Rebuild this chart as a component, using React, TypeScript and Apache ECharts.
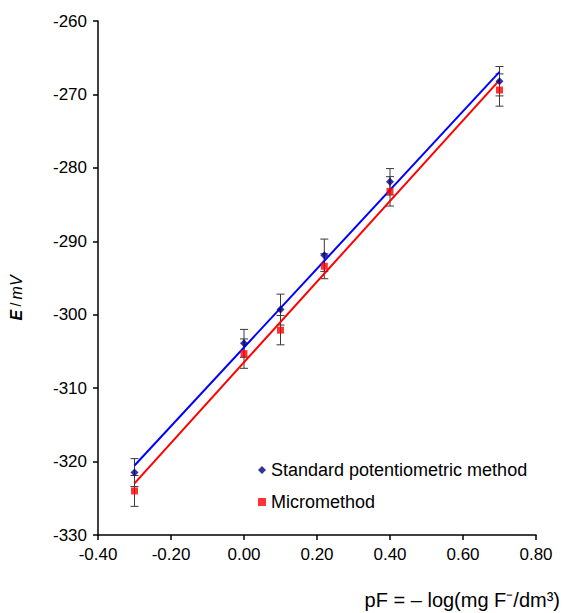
import React, { useEffect, useRef } from "react";
import * as echarts from "echarts";

const pF = [-0.3, 0.0, 0.1, 0.22, 0.4, 0.7];
const standardE = [-321.5, -303.9, -299.3, -291.9, -281.9, -268.2];
const standardErr = [1.9, 1.9, 2.1, 2.2, 1.8, 2.0];
const microE = [-324.0, -305.3, -302.1, -293.4, -283.2, -269.4];
const microErr = [2.1, 2.0, 2.0, 1.7, 2.0, 2.2];
const fitRange = [-0.3, 0.7];

const FONT = "Liberation Sans, Arial, sans-serif";

function linFit(xs: number[], ys: number[]) {
  const n = xs.length;
  const mx = xs.reduce((a, b) => a + b, 0) / n;
  const my = ys.reduce((a, b) => a + b, 0) / n;
  let sxy = 0, sxx = 0;
  for (let i = 0; i < n; i++) {
    sxy += (xs[i] - mx) * (ys[i] - my);
    sxx += (xs[i] - mx) * (xs[i] - mx);
  }
  const b = sxy / sxx;
  const a = my - b * mx;
  return fitRange.map((x) => [x, a + b * x]);
}

function errData(ys: number[], errs: number[]) {
  return pF.map((x, i) => [x, ys[i] - errs[i], ys[i] + errs[i]]);
}

const errRender = (params: any, api: any) => {
  const x = api.value(0);
  const lo = api.coord([x, api.value(1)]);
  const hi = api.coord([x, api.value(2)]);
  const w = 4;
  const style = { stroke: "#3a3a3a", lineWidth: 1 };
  return {
    type: "group",
    children: [
      { type: "line", shape: { x1: lo[0], y1: lo[1], x2: hi[0], y2: hi[1] }, style },
      { type: "line", shape: { x1: lo[0] - w, y1: lo[1], x2: lo[0] + w, y2: lo[1] }, style },
      { type: "line", shape: { x1: hi[0] - w, y1: hi[1], x2: hi[0] + w, y2: hi[1] }, style },
    ],
  };
};

export default function App() {
  const ref = useRef<HTMLDivElement>(null);
  useEffect(() => {
    if (!ref.current) return;
    const chart = echarts.init(ref.current, null, { renderer: "svg" });
    chart.setOption({
      animation: false,
      backgroundColor: "#ffffff",
      textStyle: { fontFamily: FONT },
      grid: { left: 98, right: 27, top: 21, bottom: 78 },
      xAxis: {
        type: "value",
        min: -0.4,
        max: 0.8,
        interval: 0.2,
        axisLine: { show: true, onZero: false, lineStyle: { color: "#000", width: 1.5 } },
        axisTick: { show: true, inside: false, length: 5, lineStyle: { color: "#000", width: 1.5 } },
        splitLine: { show: false },
        axisLabel: {
          color: "#000",
          fontSize: 17,
          fontFamily: FONT,
          margin: 11,
          formatter: (v: number) => v.toFixed(2),
        },
      },
      yAxis: {
        type: "value",
        min: -330,
        max: -260,
        interval: 10,
        axisLine: { show: true, onZero: false, lineStyle: { color: "#000", width: 1.5 } },
        axisTick: { show: true, inside: false, length: 5, lineStyle: { color: "#000", width: 1.5 } },
        splitLine: { show: false },
        axisLabel: { color: "#000", fontSize: 17, fontFamily: FONT, margin: 11 },
      },
      legend: {
        orient: "vertical",
        left: 253,
        top: 456,
        itemGap: 14,
        itemWidth: 8,
        itemHeight: 8,
        textStyle: { fontSize: 18, color: "#000", fontFamily: FONT },
        data: ["Standard potentiometric method", "Micromethod"],
      },
      graphic: [
        {
          type: "text",
          right: 3,
          top: 590,
          style: {
            text: "pF = – log(mg F⁻/dm³)",
            font: "20px " + FONT,
            fill: "#000",
          },
        },
        {
          type: "text",
          x: 16,
          y: 298,
          rotation: Math.PI / 2,
          style: {
            text: "{e|E} {n|/} {i|mV}",
            align: "center",
            verticalAlign: "middle",
            rich: {
              e: { font: "italic bold 16px " + FONT, fill: "#000" },
              n: { font: "14px " + FONT, fill: "#000" },
              i: { font: "italic 16px " + FONT, fill: "#000" },
            },
          },
        },
      ],
      series: [
        {
          type: "custom",
          name: "errStd",
          renderItem: errRender,
          data: errData(standardE, standardErr),
          z: 1,
          silent: true,
        },
        {
          type: "custom",
          name: "errMicro",
          renderItem: errRender,
          data: errData(microE, microErr),
          z: 1,
          silent: true,
        },
        {
          type: "line",
          name: "fitStd",
          data: linFit(pF, standardE),
          showSymbol: false,
          lineStyle: { color: "#0000ff", width: 2 },
          z: 3,
        },
        {
          type: "line",
          name: "fitMicro",
          data: linFit(pF, microE),
          showSymbol: false,
          lineStyle: { color: "#ff0000", width: 2 },
          z: 3,
        },
        {
          type: "scatter",
          name: "Standard potentiometric method",
          data: pF.map((x, i) => [x, standardE[i]]),
          symbol: "diamond",
          symbolSize: 8,
          itemStyle: { color: "#000080" },
          z: 4,
        },
        {
          type: "scatter",
          name: "Micromethod",
          data: pF.map((x, i) => [x, microE[i]]),
          symbol: "rect",
          symbolSize: 7,
          itemStyle: { color: "#ff0000" },
          z: 4,
        },
      ],
    });
    return () => chart.dispose();
  }, []);
  return <div ref={ref} style={{ width: 563, height: 613, position: "absolute", left: 0, top: 0 }} />;
}
